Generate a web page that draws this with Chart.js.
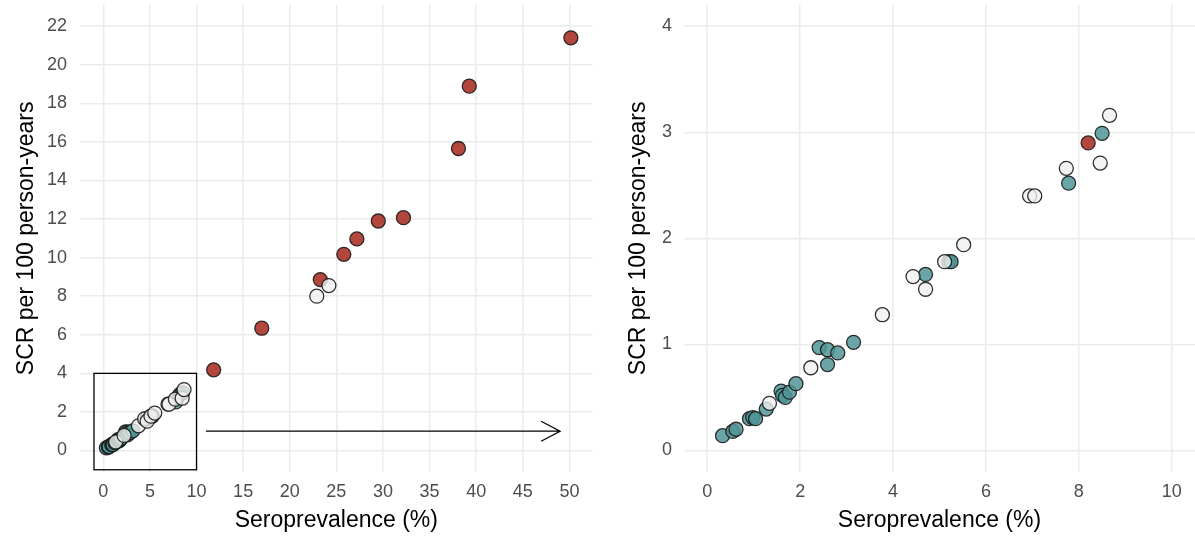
<!DOCTYPE html>
<html>
<head>
<meta charset="utf-8">
<script src="https://cdn.jsdelivr.net/npm/chart.js@4.4.1/dist/chart.umd.min.js"></script>
<style>
  body { margin: 0; background: #fff; }
  #wrap { position: relative; width: 1195px; height: 540px; }
  #leftBox { position: absolute; left: 0; top: 0; width: 600px; height: 540px; }
  #rightBox { position: absolute; left: 600px; top: 0; width: 595px; height: 540px; }
</style>
</head>
<body>
<div id="wrap">
  <div id="leftBox"><canvas id="chartAll" width="600" height="540"></canvas></div>
  <div id="rightBox"><canvas id="chartZoom" width="595" height="540"></canvas></div>
</div>
<script>
// seroprevalence (%) and SCR per 100 person-years, by group
const tealPrev = [0.33, 0.55, 0.62, 0.91, 0.98, 1.04, 1.27, 1.59, 1.62, 1.68, 1.77, 1.91, 2.41, 2.59, 2.59, 2.81, 3.15, 4.70, 5.20, 5.25, 7.78, 8.50];
const tealSCR  = [0.14, 0.18, 0.20, 0.30, 0.31, 0.30, 0.39, 0.56, 0.52, 0.50, 0.55, 0.63, 0.97, 0.95, 0.81, 0.92, 1.02, 1.66, 1.78, 1.78, 2.52, 2.99];

const whitePrev = [1.34, 2.23, 3.77, 4.43, 4.70, 5.11, 5.52, 6.94, 7.05, 7.73, 8.46, 8.66, 22.9, 24.2];
const whiteSCR  = [0.445, 0.78, 1.28, 1.64, 1.52, 1.78, 1.94, 2.40, 2.40, 2.66, 2.71, 3.16, 8.00, 8.55];

const redPrev = [8.20, 11.84, 17.0, 23.28, 25.8, 27.2, 29.5, 32.2, 38.1, 39.26, 50.16];
const redSCR  = [2.90, 4.18, 6.34, 8.86, 10.17, 10.97, 11.90, 12.07, 15.66, 18.89, 21.40];

// ticks
const allXTicks = [0, 5, 10, 15, 20, 25, 30, 35, 40, 45, 50];
const allYTicks = [0, 2, 4, 6, 8, 10, 12, 14, 16, 18, 20, 22];
const zoomXTicks = [0, 2, 4, 6, 8, 10];
const zoomYTicks = [0, 1, 2, 3, 4];

// zoom window drawn on the left panel and the arrow pointing right
const zoomWindow = [-1, -1, 10, 4];
const arrowFrom = [11, 1];
const arrowTo = [49, 1];

const zoomMaxPrev = 10;

const FONT = '"Liberation Sans", Arial, Helvetica, sans-serif';
const tickFont = { family: FONT, size: 18 };
const titleFont = { family: FONT, size: 23 };

function toPoints(xs, ys, maxX) {
  const pts = [];
  for (let i = 0; i < xs.length; i++) {
    if (maxX === undefined || xs[i] <= maxX) pts.push({ x: xs[i], y: ys[i] });
  }
  return pts;
}

function makeDatasets(maxX) {
  const common = { pointRadius: 7, pointHoverRadius: 7, pointBorderWidth: 1.3, pointBorderColor: 'rgba(25,25,25,0.9)' };
  return [
    Object.assign({ label: 'white', data: toPoints(whitePrev, whiteSCR, maxX), backgroundColor: 'rgba(240,240,240,0.8)', order: 0 }, common),
    Object.assign({ label: 'teal', data: toPoints(tealPrev, tealSCR, maxX), backgroundColor: 'rgba(80,150,152,0.85)', order: 1 }, common),
    Object.assign({ label: 'red', data: toPoints(redPrev, redSCR, maxX), backgroundColor: 'rgba(168,45,35,0.88)', order: 2 }, common)
  ];
}

function setTicks(list) {
  return function (scale) { scale.ticks = list.map(v => ({ value: v })); };
}

// no extra room for overhanging tick labels, the panel is sized by hand
function noPad(s) {
  s.paddingTop = 0; s.paddingBottom = 0; s.paddingLeft = 0; s.paddingRight = 0;
}

function makeScales(o) {
  return {
    x: {
      type: 'linear', min: o.xmin, max: o.xmax,
      afterBuildTicks: setTicks(o.xticks),
      afterFit: (s) => { s.height = o.xh; noPad(s); },
      border: { display: false },
      grid: { color: '#ebebeb', lineWidth: 1.5, drawTicks: false },
      ticks: { color: '#4d4d4d', font: tickFont, padding: 10, maxRotation: 0 },
      title: { display: true, text: 'Seroprevalence (%)', color: '#000', font: titleFont, padding: { top: 0, bottom: 6 } }
    },
    y: {
      type: 'linear', min: o.ymin, max: o.ymax,
      afterBuildTicks: setTicks(o.yticks),
      afterFit: (s) => { s.width = o.yw; noPad(s); },
      border: { display: false },
      grid: { color: '#ebebeb', lineWidth: 1.5, drawTicks: false },
      ticks: { color: '#4d4d4d', font: tickFont, padding: o.ypad },
      title: { display: true, text: 'SCR per 100 person-years', color: '#000', font: titleFont, padding: { top: o.ytitlePad, bottom: 0 } }
    }
  };
}

const zoomMarker = {
  id: 'zoomMarker',
  afterDatasetsDraw(chart) {
    const { ctx, scales: { x, y } } = chart;
    ctx.save();
    ctx.strokeStyle = '#000';
    ctx.lineWidth = 1.3;
    const x0 = x.getPixelForValue(zoomWindow[0]), y0 = y.getPixelForValue(zoomWindow[1]);
    const x1 = x.getPixelForValue(zoomWindow[2]), y1 = y.getPixelForValue(zoomWindow[3]);
    ctx.strokeRect(x0, y1, x1 - x0, y0 - y1);

    const ax = x.getPixelForValue(arrowFrom[0]), ay = y.getPixelForValue(arrowFrom[1]);
    const bx = x.getPixelForValue(arrowTo[0]), by = y.getPixelForValue(arrowTo[1]);
    ctx.beginPath();
    ctx.moveTo(ax, ay);
    ctx.lineTo(bx, by);
    ctx.moveTo(bx - 19, by - 10);
    ctx.lineTo(bx, by);
    ctx.lineTo(bx - 19, by + 10);
    ctx.stroke();
    ctx.restore();
  }
};

const baseOptions = {
  responsive: false,
  animation: false,
  events: [],
  plugins: { legend: { display: false }, tooltip: { enabled: false } }
};

new Chart(document.getElementById('chartAll'), {
  type: 'scatter',
  data: { datasets: makeDatasets() },
  options: Object.assign({}, baseOptions, {
    layout: { autoPadding: false, padding: { left: 0, right: 7.3, top: 5, bottom: 0 } },
    scales: makeScales({ xmin: -2.5, xmax: 52.5, ymin: -1.1, ymax: 23.1, xticks: allXTicks, yticks: allYTicks, xh: 68.3, yw: 80, ypad: 13, ytitlePad: 13 })
  }),
  plugins: [zoomMarker]
});

new Chart(document.getElementById('chartZoom'), {
  type: 'scatter',
  data: { datasets: makeDatasets(zoomMaxPrev) },
  options: Object.assign({}, baseOptions, {
    layout: { autoPadding: false, padding: { left: 0, right: 0, top: 5, bottom: 0 } },
    scales: makeScales({ xmin: -0.5, xmax: 10.5, ymin: -0.2, ymax: 4.2, xticks: zoomXTicks, yticks: zoomYTicks, xh: 68.3, yw: 84, ypad: 12, ytitlePad: 25 })
  })
});
</script>
</body>
</html>
